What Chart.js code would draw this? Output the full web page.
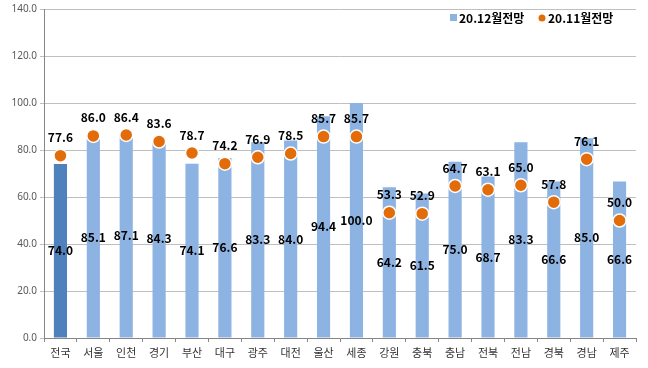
<!DOCTYPE html>
<html>
<head>
<meta charset="utf-8">
<script src="https://cdn.jsdelivr.net/npm/chart.js@4/dist/chart.umd.min.js"></script>
<style>
  html, body { margin: 0; padding: 0; background: #fff; }
  #wrap { width: 648px; height: 368px; }
</style>
</head>
<body>
<div id="wrap"><canvas id="myChart" width="648" height="368"></canvas></div>
<script>
var regions = ['전국', '서울', '인천', '경기', '부산', '대구', '광주', '대전', '울산', '세종', '강원', '충북', '충남', '전북', '전남', '경북', '경남', '제주'];
var dec = [74.0, 85.1, 87.1, 84.3, 74.1, 76.6, 83.3, 84.0, 94.4, 100.0, 64.2, 61.5, 75.0, 68.7, 83.3, 66.6, 85.0, 66.6];
var nov = [77.6, 86.0, 86.4, 83.6, 78.7, 74.2, 76.9, 78.5, 85.7, 85.7, 53.3, 52.9, 64.7, 63.1, 65.0, 57.8, 76.1, 50.0];
var seriesNames = ['20.12월전망', '20.11월전망'];

var barBlue = '#8DB3E2';
var barDark = '#4F81BD';
var dotOrange = '#E36C0A';
var labelFont = 'bold 12px "Noto Sans CJK KR", "Noto Sans", sans-serif';

var valueLabels = {
    id: 'valueLabels',
    afterDatasetsDraw: function (chart) {
        var ctx = chart.ctx;
        ctx.save();
        ctx.font = labelFont;
        ctx.fillStyle = '#000';
        ctx.textAlign = 'center';
        ctx.textBaseline = 'middle';
        chart.getDatasetMeta(0).data.forEach(function (bar, i) {
            var mid = (bar.y + bar.base) / 2;
            ctx.fillText(dec[i].toFixed(1), bar.x, mid);
        });
        chart.getDatasetMeta(1).data.forEach(function (pt, i) {
            ctx.fillText(nov[i].toFixed(1), pt.x, pt.y - 18);
        });
        ctx.restore();
    }
};

var legendBox = {
    id: 'legendBox',
    afterDraw: function (chart) {
        var ctx = chart.ctx;
        ctx.save();
        ctx.font = labelFont;
        ctx.textBaseline = 'middle';
        ctx.fillStyle = barBlue;
        ctx.fillRect(450, 14, 7, 7);
        ctx.fillStyle = '#000';
        ctx.fillText(seriesNames[0], 459, 18);
        ctx.fillStyle = dotOrange;
        ctx.beginPath();
        ctx.arc(542, 18, 3.5, 0, Math.PI * 2);
        ctx.fill();
        ctx.fillStyle = '#000';
        ctx.fillText(seriesNames[1], 548, 18);
        ctx.restore();
    }
};

const data = {
    labels: regions,
    datasets: [{
        type: 'bar',
        label: seriesNames[0],
        data: dec,
        backgroundColor: dec.map(function (v, i) { return i === 0 ? barDark : barBlue; }),
        barPercentage: 0.4,
        categoryPercentage: 1.0,
        order: 2
    }, {
        type: 'line',
        label: seriesNames[1],
        data: nov,
        showLine: false,
        pointRadius: 6.5,
        pointBackgroundColor: dotOrange,
        pointBorderColor: '#fff',
        pointBorderWidth: 1.5,
        order: 1
    }]
};

const config = {
    data: data,
    options: {
        responsive: false,
        animation: false,
        layout: { padding: { top: 8, right: 12, left: 0, bottom: 0 } },
        plugins: { legend: { display: false }, tooltip: { enabled: false } },
        scales: {
            x: {
                grid: { display: true, drawOnChartArea: false, offset: true, color: '#868686', tickLength: 4 },
                border: { color: '#868686' },
                ticks: { color: '#333', font: { size: 11, family: '"Noto Sans CJK KR"' }, padding: 4 },
                afterFit: function (s) { s.height = 30; }
            },
            y: {
                min: 0,
                max: 140,
                ticks: {
                    stepSize: 20,
                    color: '#595959',
                    font: { size: 10, family: '"Noto Sans", sans-serif' },
                    callback: function (v) { return v.toFixed(1); }
                },
                grid: { color: '#BFBFBF', tickLength: 4 },
                border: { color: '#868686' },
                afterFit: function (s) { s.width = 44; }
            }
        }
    },
    plugins: [valueLabels, legendBox]
};

const myChart = new Chart(document.getElementById('myChart'), config);
</script>
</body>
</html>
